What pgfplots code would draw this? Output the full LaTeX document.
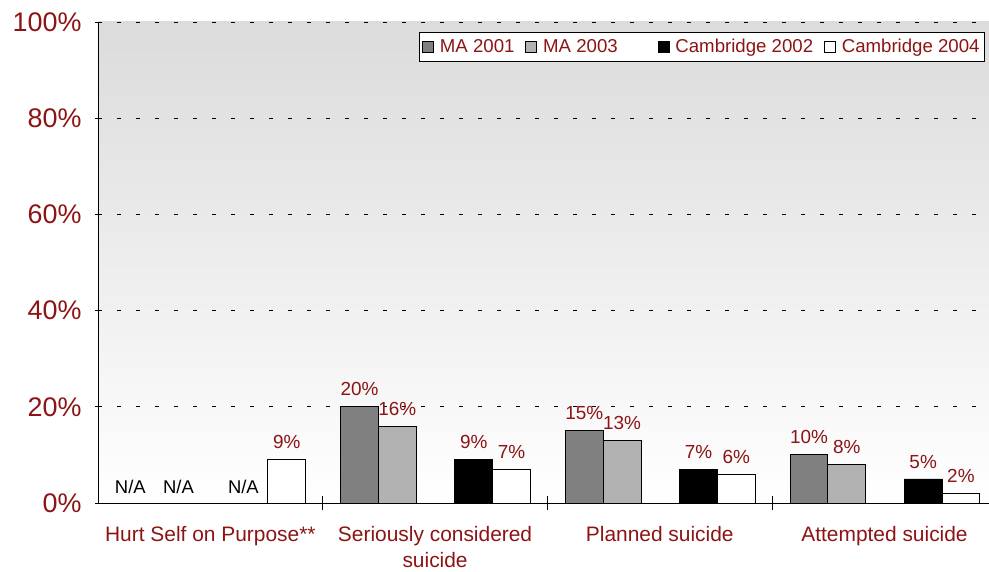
\documentclass[border=0pt]{standalone}
\usepackage{fontspec}
\setmainfont{Liberation Sans}
\usepackage{pgfplots}
\pgfplotsset{compat=1.18}
\definecolor{dred}{RGB}{140,20,20}
\definecolor{gA}{RGB}{128,128,128}
\definecolor{gB}{RGB}{178,178,178}
\pgfplotsset{mylegend/.style={legend image code/.code={\draw[#1,draw=black,line width=0.7bp,solid] (0bp,-5.5bp) rectangle (11bp,5.5bp);}}}
\begin{document}
\begin{tikzpicture}
\begin{axis}[
  scale only axis, width=891bp, height=481bp,
  at={(0,0)}, anchor=south west,
  ybar, bar width=0.168,
  xmin=-0.5, xmax=3.465, ymin=0, ymax=100,
  axis x line*=bottom, axis y line*=left,
  axis line style={black, line width=0.8bp},
  axis background/.style={shade, top color=black!14, bottom color=white},
  /pgf/number format/assume math mode=true,
  ytick={0,20,40,60,80,100},
  yticklabels={0\%,20\%,40\%,60\%,80\%,100\%},
  ymajorgrids, grid style={black, dash pattern=on 4bp off 15bp, line width=0.6bp},
  xtick={0,1,2,3},
  xticklabels={Hurt Self on Purpose**, Seriously considered\\suicide, Planned suicide, Attempted suicide},
  minor xtick={0.5,1.5,2.5},
  tick align=center,
  major x tick style={draw=none},
  minor x tick style={black, line width=0.8bp},
  minor tick length=14bp,
  major tick length=6bp,
  y tick style={black, line width=0.8bp},
  xticklabel style={align=center, font=\fontsize{21}{26}\selectfont, text=dred},
  yticklabel style={font=\fontsize{27}{30}\selectfont, text=dred},
  yticklabel shift=10bp,
  xticklabel shift=17bp,
  nodes near coords={\pgfmathprintnumber{\pgfplotspointmeta}\%},
  every node near coord/.append style={font=\fontsize{19}{21}\selectfont, text=dred, yshift=7bp},
  legend columns=-1,
  legend style={at={(0.9955,0.979)}, anchor=north east, draw=black, line width=0.8bp,
    fill=white, font=\fontsize{18.7}{21}\selectfont, text=dred, inner xsep=3bp, inner ysep=5bp,
    /tikz/every odd column/.append style={column sep=4bp},
    /tikz/every even column/.append style={column sep=9bp}},
]
\addplot[bar shift=-0.336, fill=gA, draw=black, line width=0.8bp, mylegend]
  coordinates {(1,20) (2,15) (3,10)};
\addlegendentry{MA 2001}
\addplot[bar shift=-0.168, fill=gB, draw=black, line width=0.8bp, mylegend]
  coordinates {(1,16) (2,13) (3,8)};
\addlegendentry{MA 2003}
\addlegendimage{empty legend}
\addlegendentry{\rule{12bp}{0pt}}
\addplot[bar shift=0.172, fill=black, draw=black, line width=0.8bp, mylegend]
  coordinates {(1,9) (2,7) (3,5)};
\addlegendentry{Cambridge 2002}
\addplot[bar shift=0.34, fill=white, draw=black, line width=0.8bp, mylegend]
  coordinates {(0,9) (1,7) (2,6) (3,2)};
\addlegendentry{Cambridge 2004}
\node[font=\fontsize{18.5}{20}\selectfont, text=black, yshift=16bp] at (axis cs:-0.356,0) {N/A};
\node[font=\fontsize{18.5}{20}\selectfont, text=black, yshift=16bp] at (axis cs:-0.142,0) {N/A};
\node[font=\fontsize{18.5}{20}\selectfont, text=black, yshift=16bp] at (axis cs:0.147,0) {N/A};
\end{axis}
\pgfresetboundingbox
\path[use as bounding box] (-98bp,-69bp) rectangle (891bp,503bp);
\end{tikzpicture}
\end{document}
